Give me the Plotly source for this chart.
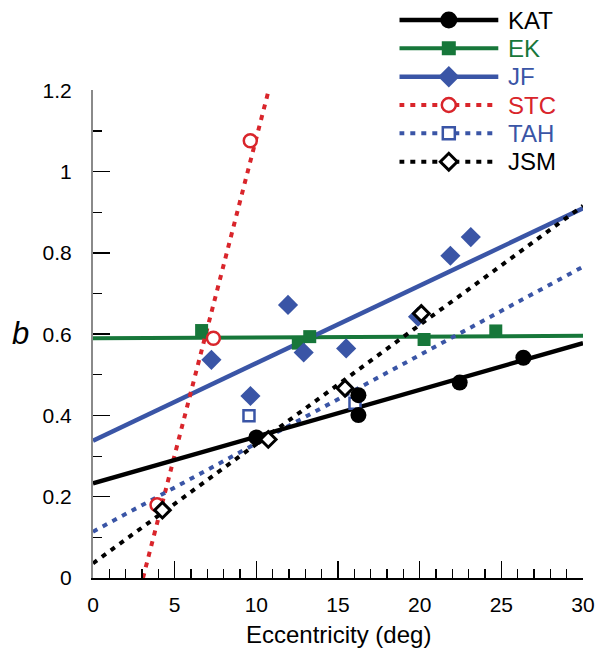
import plotly.graph_objects as go

# ---------------- data ----------------
kat_x = [10.0, 16.25, 16.25, 22.45, 26.35]
kat_y = [0.346, 0.450, 0.401, 0.481, 0.542]

ek_x = [6.65, 12.57, 13.27, 20.27, 24.66]
ek_y = [0.609, 0.578, 0.594, 0.587, 0.608]

jf_x = [7.25, 9.64, 11.94, 12.9, 15.5, 19.9, 21.88, 23.13]
jf_y = [0.537, 0.448, 0.672, 0.555, 0.565, 0.643, 0.793, 0.839]

stc_x = [3.92, 7.37, 9.63]
stc_y = [0.180, 0.590, 1.076]

tah_x = [9.55, 16.04]
tah_y = [0.399, 0.430]

jsm_x = [4.25, 10.73, 15.43, 20.1]
jsm_y = [0.167, 0.341, 0.467, 0.651]

# fitted lines (end values)
fit_x = [0, 30]
kat_fit = [0.233, 0.578]
ek_fit = [0.590, 0.596]
jf_fit = [0.338, 0.910]
tah_fit = [0.114, 0.766]
jsm_fit = [0.036, 0.916]
stc_fit_x = [3.06, 10.9]
stc_fit_y = [0.0, 1.223]

names = ["KAT", "EK", "JF", "STC", "TAH", "JSM"]
x_title = "Eccentricity (deg)"
y_title = "<i>b</i>"

# ---------------- styles ----------------
BLACK = "#000000"
GREEN = "#17773a"
BLUE = "#3a55a6"
RED = "#d9252b"
FONT = "Liberation Sans, Arial, Helvetica, sans-serif"
DOT = "5px,6px"

styles = {
    "KAT": dict(color=BLACK, dash="solid", symbol="circle", size=16, fill=BLACK, lw=0, w=4.3),
    "EK": dict(color=GREEN, dash="solid", symbol="square", size=13, fill=GREEN, lw=0, w=4),
    "JF": dict(color=BLUE, dash="solid", symbol="diamond", size=15.5, fill=BLUE, lw=0, w=4.5),
    "STC": dict(color=RED, dash=DOT, symbol="circle", size=13, fill="white", lw=2.5, w=4),
    "TAH": dict(color=BLUE, dash=DOT, symbol="square", size=11, fill="white", lw=2.5, w=4),
    "JSM": dict(color=BLACK, dash=DOT, symbol="diamond", size=12, fill="white", lw=3, w=4),
}

series = {
    "KAT": (kat_x, kat_y, fit_x, kat_fit),
    "EK": (ek_x, ek_y, fit_x, ek_fit),
    "JF": (jf_x, jf_y, fit_x, jf_fit),
    "STC": (stc_x, stc_y, stc_fit_x, stc_fit_y),
    "TAH": (tah_x, tah_y, fit_x, tah_fit),
    "JSM": (jsm_x, jsm_y, fit_x, jsm_fit),
}

fig = go.Figure()

# fitted lines first
for n in ["EK", "JF", "STC", "TAH", "JSM", "KAT"]:
    s = styles[n]
    xs, ys, fx, fy = series[n]
    fig.add_trace(go.Scatter(x=fx, y=fy, mode="lines",
                             line=dict(color=s["color"], width=s["w"], dash=s["dash"]),
                             showlegend=False, hoverinfo="skip"))
# markers
for n in ["EK", "JF", "STC", "TAH", "KAT", "JSM"]:
    s = styles[n]
    xs, ys, fx, fy = series[n]
    fig.add_trace(go.Scatter(x=xs, y=ys, mode="markers", name=n, showlegend=False,
                             marker=dict(symbol=s["symbol"], size=s["size"], color=s["fill"],
                                         line=dict(color=s["color"], width=s["lw"]))))

# ---------------- hand-built legend on an overlay axis ----------------
H, W = 656, 597
ml, mr, mt, mb = 93, 14, 0, 78
plot_w = W - ml - mr
plot_h = H - mt - mb
y_top_px = 90.4  # pixel of y=1.2
main_dom_top = (plot_h - y_top_px) / plot_h

leg_x0_px, leg_x1_px = 399.3, 498.3
leg_unit = leg_x1_px - leg_x0_px
x2_max = 1.8
row0_px, row_step = 20.0, 28.34
leg_dom_bottom = 0.70
leg_dom_px = (1 - leg_dom_bottom) * plot_h
nrows = len(names)
y2_max = nrows + row0_px / row_step
y2_min = y2_max - leg_dom_px / row_step

annotations = []
for i, n in enumerate(names):
    s = styles[n]
    r = nrows - i
    fig.add_trace(go.Scatter(x=[0, 1], y=[r, r], mode="lines", xaxis="x2", yaxis="y2",
                             line=dict(color=s["color"], width=s["w"], dash=s["dash"]),
                             showlegend=False, hoverinfo="skip"))
    fig.add_trace(go.Scatter(x=[0.5], y=[r], mode="markers", xaxis="x2", yaxis="y2",
                             marker=dict(symbol=s["symbol"], size=s["size"] + 1, color=s["fill"],
                                         line=dict(color=s["color"], width=s["lw"])),
                             showlegend=False, hoverinfo="skip"))
    annotations.append(dict(x=1.08, y=r, xref="x2", yref="y2", text=n, showarrow=False,
                            xanchor="left", yanchor="middle",
                            font=dict(family=FONT, size=24, color=s["color"])))

# axis titles
annotations.append(dict(x=(20 - ml) / plot_w, y=(plot_h - 333) / plot_h, xref="paper", yref="paper",
                        text=y_title, showarrow=False, xanchor="center", yanchor="middle",
                        font=dict(family=FONT, size=31, color="black")))
annotations.append(dict(x=0.5, y=(plot_h - 634) / plot_h, xref="paper", yref="paper",
                        text=x_title, showarrow=False, xanchor="center", yanchor="middle",
                        font=dict(family=FONT, size=24, color="black")))

fig.update_layout(
    width=W, height=H,
    margin=dict(l=ml, r=mr, t=mt, b=mb, autoexpand=False),
    paper_bgcolor="white", plot_bgcolor="white",
    font=dict(family=FONT, size=21, color="black"),
    showlegend=False,
    hovermode=False,
    annotations=annotations,
    xaxis=dict(range=[0, 30], domain=[0, 1], anchor="y", automargin=False,
               showline=True, linecolor="black", linewidth=2,
               ticks="inside", ticklen=17, tickwidth=1.5, tickcolor="black",
               tick0=0, dtick=5, showgrid=False, zeroline=False,
               minor=dict(dtick=1, ticks="inside", ticklen=9, tickwidth=1.2, tickcolor="black", showgrid=False),
               tickfont=dict(size=21), ticklabelstandoff=7),
    yaxis=dict(range=[0, 1.2], domain=[0, main_dom_top], anchor="x", automargin=False,
               showline=True, linecolor="#8a8a8a", linewidth=2,
               ticks="inside", ticklen=17, tickwidth=1.5, tickcolor="black",
               tick0=0, dtick=0.2, showgrid=False, zeroline=False,
               minor=dict(dtick=0.1, ticks="inside", ticklen=9, tickwidth=1.2, tickcolor="black", showgrid=False),
               tickfont=dict(size=21), ticklabelstandoff=15),
    xaxis2=dict(domain=[(leg_x0_px - ml) / plot_w, (leg_x0_px + x2_max * leg_unit - ml) / plot_w],
                range=[0, x2_max], anchor="y2", visible=False, fixedrange=True),
    yaxis2=dict(domain=[leg_dom_bottom, 1], range=[y2_min, y2_max],
                anchor="x2", visible=False, fixedrange=True),
)

fig.write_html("out.html", config={"displayModeBar": False, "staticPlot": True},
               post_script="document.body.style.margin='0';document.body.style.padding='0';")
